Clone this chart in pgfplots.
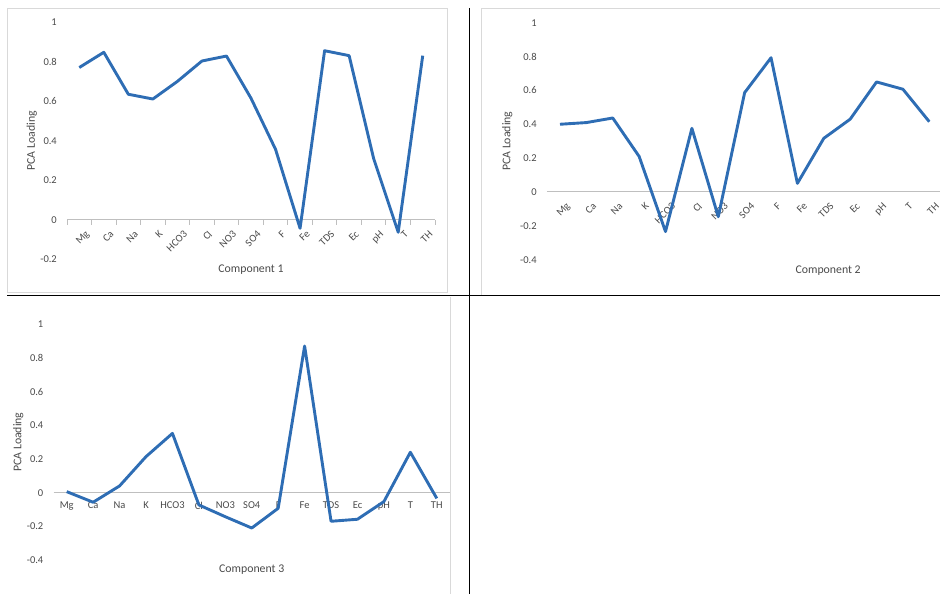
\documentclass[border=0pt]{standalone}
\usepackage{pgfplots}
\pgfplotsset{compat=1.18}
\usepackage{fontspec}
\setmainfont{Carlito}
\definecolor{exblue}{HTML}{2E6DB4}
\definecolor{extxt}{HTML}{4A4A4A}
\definecolor{exax}{HTML}{BFBFBF}
\definecolor{exbox}{HTML}{D9D9D9}
\pgfplotsset{
  pca/.style={
    scale only axis,
    axis x line=middle,
    axis y line=left,
    x axis line style={-, draw=exax, line width=1pt},
    y axis line style={draw=none},
    xmin=-0.5, xmax=14.5,
    xtick={0,...,14},
    xticklabels={Mg,Ca,Na,K,HCO3,Cl,NO3,SO4,F,Fe,TDS,Ec,pH,T,TH},
    major tick length=0pt,
    tick style={draw=exax, line width=0.9pt},
    ticklabel style={font=\fontsize{10.5}{12}\selectfont, text=extxt},
    yticklabel style={anchor=east, inner sep=0pt, xshift=-10pt},
    ylabel={PCA Loading},
    clip=false,
  },
  pcaxl/.style n args={2}{every axis x label/.style={at={(rel axis cs:#1,0)}, yshift=#2, anchor=center, font=\fontsize{11.8}{14}\selectfont, text=extxt}},
  pcayl/.style={every axis y label/.style={at={(rel axis cs:0,0.5)}, xshift=#1, rotate=90, anchor=center, font=\fontsize{11.8}{14}\selectfont, text=extxt}},
  pcaline/.style={draw=exblue, line width=2.9pt, line join=round, no markers},
}
\begin{document}
\begin{tikzpicture}[x=1pt,y=1pt]
\useasboundingbox (0,0) rectangle (940,594);
% frames
\draw[exbox, line width=1pt] (7.3,585.7) rectangle (447,301);
\draw[exbox, line width=1pt] (481.7,299.3) -- (481.7,585.7) -- (945,585.7);
\draw[exbox, line width=1pt] (450,297) -- (450,-2);
\draw[black, line width=1.2pt] (7,298.5) -- (945,298.5);
\draw[black, line width=1.2pt] (469.5,586) -- (469.5,-2);

% Component 1
\begin{axis}[pca, at={(67pt,334.4pt)}, anchor=south west, width=368pt, height=237.6pt,
  ymin=-0.2, ymax=1, ytick={-0.2,0,0.2,0.4,0.6,0.8,1},
  yticklabels={-0.2,0,0.2,0.4,0.6,0.8,1},
  minor xtick={-0.5,0.5,...,14.5}, minor tick length=5pt, xtick align=outside,
  xticklabel style={rotate=45, anchor=north east, inner sep=1pt, yshift=-10pt, xshift=-2pt},
  pcaxl={0.5}{-10.5pt}, pcayl={-35.3pt},
  xlabel={Component 1}]
\addplot[pcaline] coordinates {(0,0.77) (1,0.847) (2,0.635) (3,0.611) (4,0.70) (5,0.803) (6,0.828) (7,0.615) (8,0.357) (9,-0.042) (10,0.855) (11,0.83) (12,0.31) (13,-0.062) (14,0.83)};
\end{axis}

% Component 2
\begin{axis}[pca, at={(546.8pt,334.3pt)}, anchor=south west, width=395.7pt, height=237pt,
  ymin=-0.4, ymax=1, ytick={-0.4,-0.2,0,0.2,0.4,0.6,0.8,1},
  yticklabels={-0.4,-0.2,0,0.2,0.4,0.6,0.8,1},
  xticklabel style={rotate=45, anchor=north east, inner sep=1pt, yshift=-10pt, xshift=-2pt},
  pcaxl={0.711}{-11pt}, pcayl={-39.5pt},
  xlabel={Component 2}]
\addplot[pcaline] coordinates {(0,0.40) (1,0.41) (2,0.437) (3,0.21) (4,-0.234) (5,0.376) (6,-0.146) (7,0.587) (8,0.793) (9,0.051) (10,0.317) (11,0.43) (12,0.65) (13,0.607) (14,0.415)};
\end{axis}

% Component 3
\begin{axis}[pca, at={(53.5pt,34pt)}, anchor=south west, width=396.5pt, height=235.7pt,
  ymin=-0.4, ymax=1, ytick={-0.4,-0.2,0,0.2,0.4,0.6,0.8,1},
  yticklabels={-0.4,-0.2,0,0.2,0.4,0.6,0.8,1},
  xticklabel style={anchor=north, inner sep=1pt, yshift=-8pt},
  pcaxl={0.5}{-10pt}, pcayl={-35.2pt},
  xlabel={Component 3}]
\addplot[pcaline] coordinates {(0,0.006) (1,-0.057) (2,0.04) (3,0.214) (4,0.352) (5,-0.073) (6,-0.143) (7,-0.21) (8,-0.093) (9,0.871) (10,-0.17) (11,-0.158) (12,-0.053) (13,0.24) (14,-0.034)};
\end{axis}
\end{tikzpicture}
\end{document}
